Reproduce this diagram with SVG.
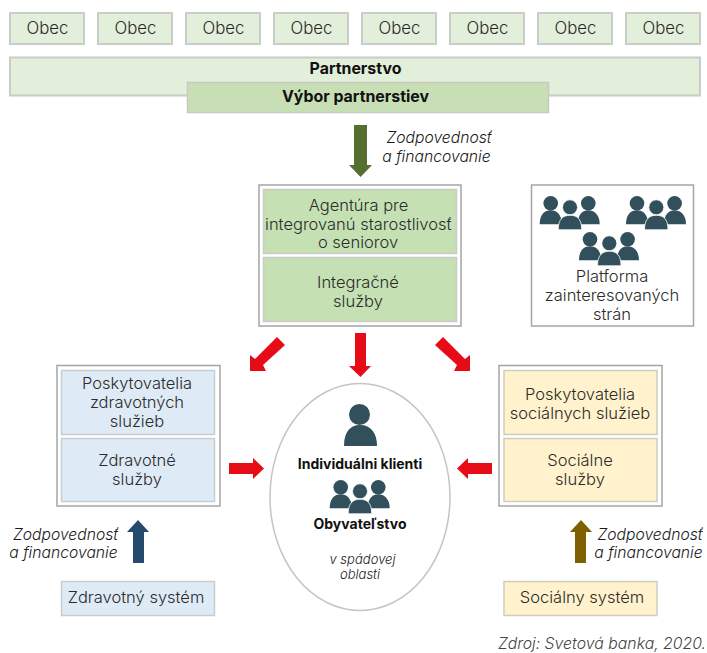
<svg xmlns="http://www.w3.org/2000/svg" xmlns:xlink="http://www.w3.org/1999/xlink" width="707" height="653" viewBox="0 0 707 653">
<style>
text{font-family:"Inter","Liberation Sans",sans-serif;font-size:16.500px;fill:#2b2b2b;text-anchor:middle;font-weight:300}
.b{font-weight:700;fill:#111;font-size:15.900px}
.o{font-size:16.800px}
.c{font-weight:700;fill:#111;font-size:14px}
.i{font-style:italic;font-size:15.700px;fill:#1a1a1a;font-weight:300}
.t{font-style:italic;font-size:13px;fill:#1a1a1a;font-weight:300}
.src{font-style:italic;font-size:15.800px;fill:#444;text-anchor:end}
.g1{fill:#e2efda;stroke:#c9ccc7;stroke-width:2}
.g2{fill:#c8dfb5;stroke:#c6c9c3;stroke-width:1.5}
.g3{fill:#c5e0b3;stroke:#c8cbc6;stroke-width:1.5}
.bl{fill:#deeaf6;stroke:#c9cdd0;stroke-width:1.5}
.ye{fill:#fff2cc;stroke:#cfcdc3;stroke-width:1.5}
.frame{fill:#fff;stroke:#a5a5a5;stroke-width:1.5}
.red{fill:#e60b17}
.p{fill:#324f5c}
</style>
<defs>
<g id="three" class="p">
<circle cx="0" cy="0" r="7.3"/><path d="M-11,21 C-11,11 -6,7 0,7 C6,7 11,11 11,21Z"/>
<circle cx="37.600" cy="0" r="7.300"/><path d="M27,21 C27,11 32,7 37.600,7 C43,7 49,11 49,21Z"/>
<circle cx="19.300" cy="4" r="7.500" stroke="#fff" stroke-width="0.800"/><path d="M7.500,26.500 C7.500,15 13,12 19.300,12 C26,12 31,15 31,26.500Z" stroke="#fff" stroke-width="0.800"/>
</g>
</defs>
<g id="connectors">
<path fill="#556f31" d="M354,125H367V165H372L360.500,177L349,165H354Z"/>
<path class="red" d="M355,333H366V366H371L360.500,377L349,366H355Z"/>
<path class="red" d="M277,337L285,345L263,365L266,371H250V355L255,359Z"/>
<path class="red" d="M443,337L435,345L457,365L454,371H470V355L465,359Z"/>
<path class="red" d="M229,463H253V458L264,468.500L253,479V474H229Z"/>
<path class="red" d="M492,463H468V458L457,468.500L468,479V474H492Z"/>
<path fill="#264a6e" d="M133,563V532H127L138,520L149,532H144V563Z"/>
<path fill="#7f6000" d="M575,563V532H570L581,520L592,532H586V563Z"/>
</g>
<g id="obce">
<g id="obec1"><rect class="g1" x="10" y="13" width="74" height="31"/><text class="o" x="47.500" y="34">Obec</text></g>
<g id="obec2"><rect class="g1" x="98" y="13" width="74" height="31"/><text class="o" x="135.500" y="34">Obec</text></g>
<g id="obec3"><rect class="g1" x="186" y="13" width="74" height="31"/><text class="o" x="223.500" y="34">Obec</text></g>
<g id="obec4"><rect class="g1" x="274" y="13" width="74" height="31"/><text class="o" x="311.500" y="34">Obec</text></g>
<g id="obec5"><rect class="g1" x="362" y="13" width="74" height="31"/><text class="o" x="399.500" y="34">Obec</text></g>
<g id="obec6"><rect class="g1" x="450" y="13" width="74" height="31"/><text class="o" x="487.500" y="34">Obec</text></g>
<g id="obec7"><rect class="g1" x="538" y="13" width="74" height="31"/><text class="o" x="575.500" y="34">Obec</text></g>
<g id="obec8"><rect class="g1" x="626" y="13" width="74" height="31"/><text class="o" x="663.500" y="34">Obec</text></g>
</g>
<g id="partnerstvo"><rect class="g1" x="10" y="57.500" width="690" height="38"/><text class="b" x="355.500" y="74">Partnerstvo</text></g>
<g id="vybor"><rect class="g2" x="187.500" y="82.500" width="361" height="30"/><text class="b" x="355.500" y="102">Výbor partnerstiev</text></g>
<text class="i" x="439" y="143">Zodpovednosť</text>
<text class="i" x="436.500" y="162">a financovanie</text>
<g id="agentura">
<rect class="frame" x="259" y="185" width="202" height="141"/>
<rect class="g3" x="263.500" y="189.500" width="193" height="64"/>
<rect class="g3" x="263.500" y="257.500" width="193" height="64"/>
<text x="358.500" y="211">Agentúra pre</text>
<text x="358.500" y="229.500">integrovanú starostlivosť</text>
<text x="358" y="248">o seniorov</text>
<text x="358" y="288">Integračné</text>
<text x="358" y="307">služby</text>
</g>
<g id="platforma">
<rect class="frame" x="531.500" y="185" width="162" height="141"/>
<use href="#three" x="550.700" y="203.300"/>
<use href="#three" x="637" y="203.300"/>
<use href="#three" x="590" y="239.300"/>
<text x="612" y="282">Platforma</text>
<text x="612" y="301">zainteresovaných</text>
<text x="612" y="320">strán</text>
</g>
<g id="zdravotne">
<rect class="frame" x="57" y="365.500" width="163" height="140.500"/>
<rect class="bl" x="61.500" y="370.500" width="153" height="64"/>
<rect class="bl" x="61.500" y="438.500" width="153" height="63"/>
<text x="137" y="389">Poskytovatelia</text>
<text x="137" y="408">zdravotných</text>
<text x="137" y="427">služieb</text>
<text x="137" y="466">Zdravotné</text>
<text x="137" y="485">služby</text>
</g>
<g id="socialne">
<rect class="frame" x="499" y="365.500" width="163" height="140.500"/>
<rect class="ye" x="504" y="370.500" width="153" height="64"/>
<rect class="ye" x="504" y="438.500" width="153" height="63"/>
<text x="580" y="400">Poskytovatelia</text>
<text x="580" y="419">sociálnych služieb</text>
<text x="580" y="466">Sociálne</text>
<text x="580" y="485">služby</text>
</g>
<g id="klienti">
<ellipse cx="360" cy="497" rx="90" ry="113.500" fill="#fff" stroke="#c5c5c5" stroke-width="1.500"/>
<g class="p"><circle cx="359.500" cy="414.500" r="10.500"/><path d="M344,446 C344,432 350,425 360,425 C370,425 377,432 377,446Z"/></g>
<text class="c" x="360" y="469">Individuálni klienti</text>
<use href="#three" x="340.700" y="487.300"/>
<text class="c" x="360" y="529">Obyvateľstvo</text>
<text class="t" x="362.500" y="564">v spádovej</text>
<text class="t" x="360" y="579">oblasti</text>
</g>
<text class="i" x="65.500" y="540">Zodpovednosť</text>
<text class="i" x="63.500" y="558">a financovanie</text>
<text class="i" x="650" y="540">Zodpovednosť</text>
<text class="i" x="648.500" y="558">a financovanie</text>
<g id="zdravotny"><rect class="bl" x="61.500" y="581.500" width="153" height="34"/><text x="136" y="603">Zdravotný systém</text></g>
<g id="socialny"><rect class="ye" x="504" y="581.500" width="153" height="34"/><text x="582" y="603">Sociálny systém</text></g>
<text class="src" x="706" y="649">Zdroj: Svetová banka, 2020.</text>
</svg>
